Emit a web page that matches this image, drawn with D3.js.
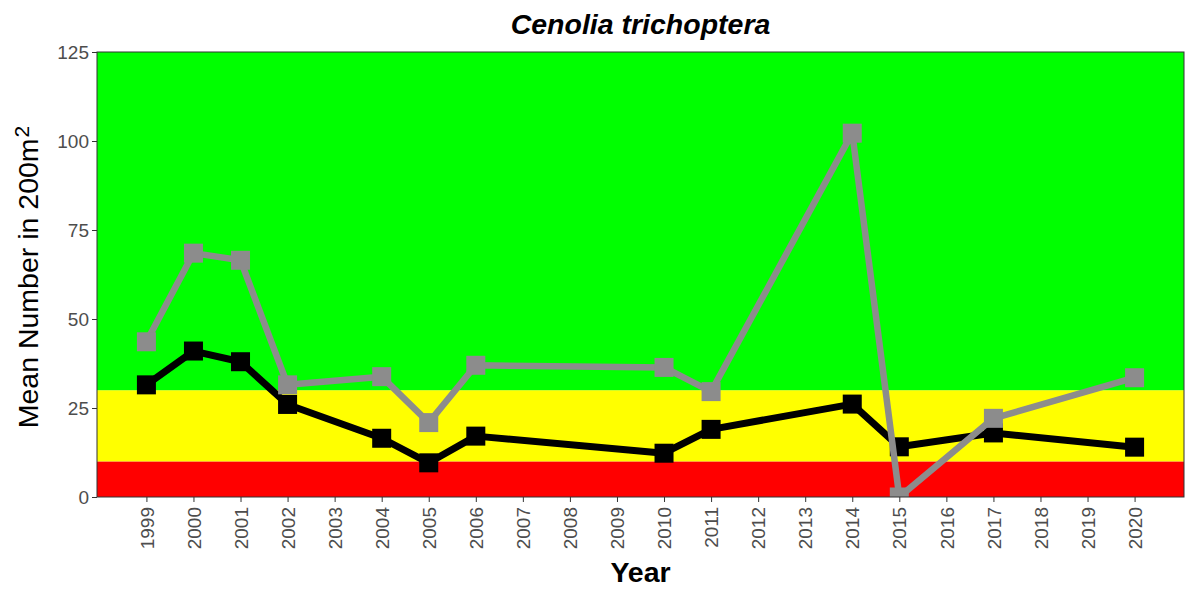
<!DOCTYPE html>
<html>
<head>
<meta charset="utf-8">
<script src="https://cdn.jsdelivr.net/npm/d3@7"></script>
<style>
  body { margin: 0; background: #fff; }
  svg { display: block; font-family: "Liberation Sans", Arial, sans-serif; }
</style>
</head>
<body>
<div class="canvas"></div>
<script>
// data
const years = [1999, 2000, 2001, 2002, 2004, 2005, 2006, 2010, 2011, 2014, 2015, 2017, 2020];
const blackSeries = [31.5, 41, 38, 26, 16.5, 9.6, 17.1, 12.3, 19, 26.1, 14.1, 18, 14];
const greySeries = [43.6, 68.5, 66.5, 31.5, 33.8, 20.9, 37, 36.4, 29.6, 102.2, 0, 22.1, 33.5];
const tickYears = d3.range(1999, 2021);
const yTicks = [0, 25, 50, 75, 100, 125];
const bands = [
  { from: 0, to: 10, color: "#FF0000" },
  { from: 10, to: 30, color: "#FFFF00" },
  { from: 30, to: 125, color: "#00FF00" }
];

// margins and dimensions
const w = 1192;
const h = 591;
const margin = { top: 52, right: 8, bottom: 94, left: 97 };
const graphWidth = w - margin.left - margin.right;
const graphHeight = h - margin.top - margin.bottom;

const svg = d3.select(".canvas").append("svg").attr("width", w).attr("height", h);

const graph = svg.append("g").attr("transform", `translate(${margin.left}, ${margin.top})`);

// scales (ggplot style 5% expansion on x)
const x = d3.scaleLinear().domain([1997.95, 2021.05]).range([0, graphWidth]);
const y = d3.scaleLinear().domain([0, 125]).range([graphHeight, 0]);

svg.append("defs").append("clipPath").attr("id", "panel")
  .append("rect").attr("width", graphWidth).attr("height", graphHeight);

const panel = graph.append("g").attr("clip-path", "url(#panel)");

// coloured bands
panel.selectAll("rect.band")
  .data(bands)
  .enter()
  .append("rect")
  .attr("class", "band")
  .attr("x", 0)
  .attr("width", graphWidth)
  .attr("y", (d) => y(d.to))
  .attr("height", (d) => y(d.from) - y(d.to))
  .attr("fill", (d) => d.color);

// series
const drawSeries = (values, color, lw) => {
  const pts = years.map((yr, i) => [yr, values[i]]);
  const line = d3.line().x((d) => x(d[0])).y((d) => y(d[1]));
  panel.append("path")
    .datum(pts)
    .attr("d", line)
    .attr("fill", "none")
    .attr("stroke", color)
    .attr("stroke-width", lw)
    .attr("stroke-linejoin", "round");
  const s = 19;
  panel.selectAll(null)
    .data(pts)
    .enter()
    .append("rect")
    .attr("x", (d) => x(d[0]) - s / 2)
    .attr("y", (d) => y(d[1]) - s / 2)
    .attr("width", s)
    .attr("height", s)
    .attr("fill", color);
};

drawSeries(blackSeries, "#000000", 7);
drawSeries(greySeries, "#8C8C8C", 6.5);

// border
graph.append("rect")
  .attr("width", graphWidth)
  .attr("height", graphHeight)
  .attr("fill", "none")
  .attr("stroke", "#333333")
  .attr("stroke-width", 1);

// axes
const xAxis = d3.axisBottom(x).tickValues(tickYears).tickFormat(d3.format("d")).tickSize(5).tickSizeOuter(0);
const yAxis = d3.axisLeft(y).tickValues(yTicks).tickSize(5).tickSizeOuter(0);

const gx = graph.append("g")
  .attr("transform", `translate(0, ${graphHeight})`)
  .call(xAxis);
gx.select(".domain").remove();
gx.selectAll(".tick line").attr("stroke", "#333333");
gx.selectAll(".tick text")
  .attr("fill", "#4D4D4D")
  .style("font-size", "19px")
  .attr("text-anchor", "end")
  .attr("transform", "rotate(-90)")
  .attr("x", -10)
  .attr("y", 0)
  .attr("dy", "0.35em");

const gy = graph.append("g").call(yAxis);
gy.select(".domain").remove();
gy.selectAll(".tick line").attr("stroke", "#333333");
gy.selectAll(".tick text")
  .attr("fill", "#4D4D4D")
  .style("font-size", "19px")
  .attr("x", -8)
  .attr("dy", "0.35em");

// title
svg.append("text")
  .attr("x", margin.left + graphWidth / 2)
  .attr("y", 34)
  .attr("text-anchor", "middle")
  .style("font-size", "28.5px")
  .style("font-weight", "bold")
  .style("font-style", "italic")
  .text("Cenolia trichoptera");

// x title
svg.append("text")
  .attr("x", margin.left + graphWidth / 2)
  .attr("y", 582)
  .attr("text-anchor", "middle")
  .style("font-size", "28.5px")
  .style("font-weight", "bold")
  .text("Year");

// y title
const yt = svg.append("text")
  .attr("transform", `translate(38, 277) rotate(-90)`)
  .attr("text-anchor", "middle")
  .style("font-size", "28.5px");
yt.append("tspan").text("Mean Number in 200m");
yt.append("tspan").attr("dy", "-9").attr("dx", "1").style("font-size", "21px").text("2");
</script>
</body>
</html>
